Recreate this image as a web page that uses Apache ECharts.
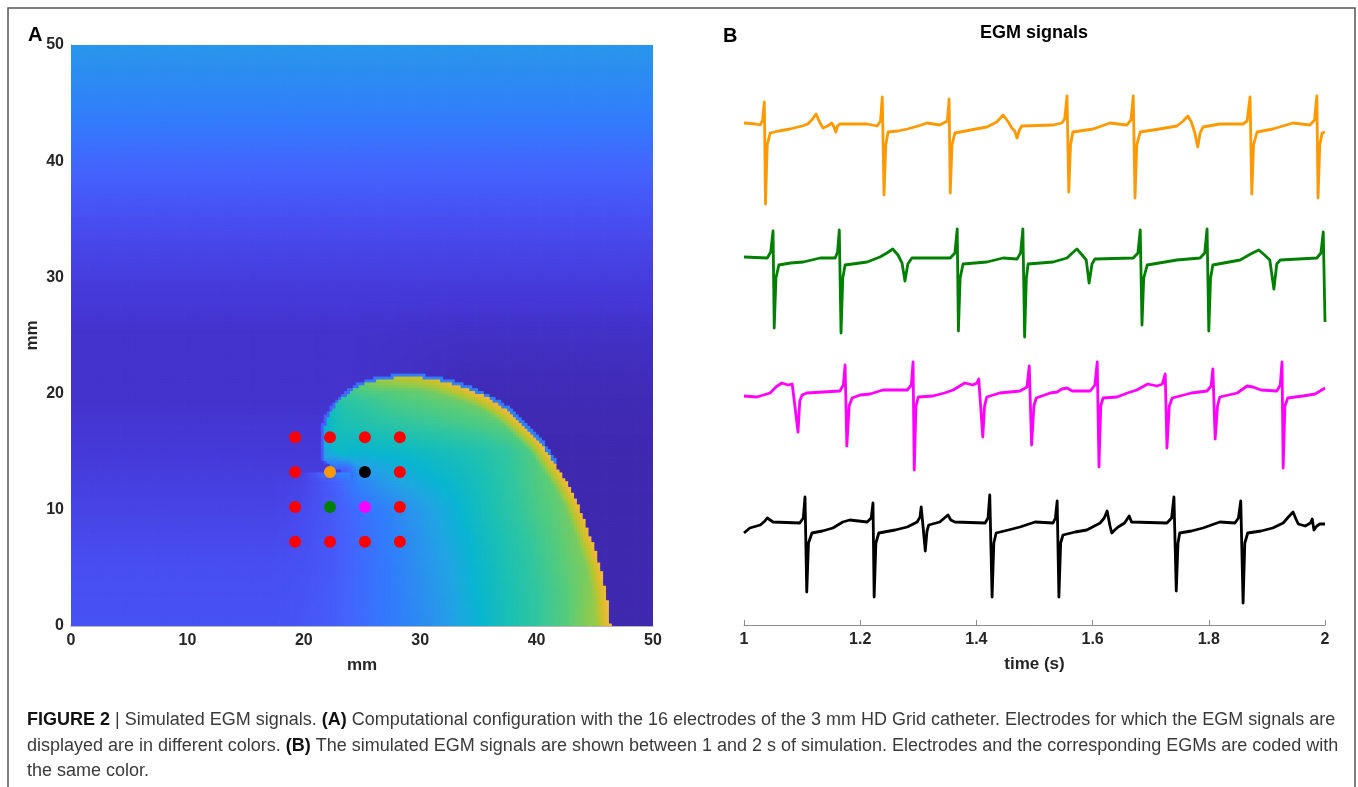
<!DOCTYPE html>
<html>
<head>
<meta charset="utf-8">
<script src="https://cdn.jsdelivr.net/npm/echarts@6/dist/echarts.min.js"></script>
<style>
html, body { margin: 0; padding: 0; background: #fff; }
#main { width: 1358px; height: 787px; }
</style>
</head>
<body>
<div id="main"></div>
<script>
// ---------- panel A : simulated field (parula level 0..100) ----------
const fieldCols = [17.5, 20, 22.5, 25, 27.5, 30, 32.5, 35, 37.5, 40, 42.5, 45, 47.5, 50];
const fieldRows = [0, 2.5, 5, 7.5, 10, 12.5, 15, 17.5, 20, 22.5];
const fieldVals = [
    [14,   15,   17, 21, 25, 29, 35, 43, 50, 56, 62, 70, 76, 80],
    [13.5, 14.5, 17, 21, 25, 30, 36, 44, 50, 56, 62, 69, 75, 80],
    [13,   14,   16, 21, 25, 31, 37, 45, 51, 57, 63, 68, 74, 80],
    [11.5, 13,   16, 21, 26, 32, 39, 46, 52, 58, 64, 70, 75, 80],
    [10,   12,   16, 22, 27, 34, 41, 48, 54, 60, 65, 70, 75, 80],
    [8.5,  10,   17, 28, 36, 41, 45, 49, 55, 61, 66, 70, 75, 80],
    [7,    7,    46, 44, 45, 47, 49, 52, 56, 62, 70, 78, 80, 80],
    [6,    6,    50, 52, 55, 57, 59, 61, 64, 70, 78, 80, 80, 80],
    [5,    5,    52, 58, 62, 64, 66, 68, 72, 78, 80, 80, 80, 80],
    [5,    5,    55, 60, 64, 66, 68, 70, 74, 78, 80, 80, 80, 80]
];
// background outside the wave, per row (left part / right part)
const bgRowsY = [0, 5, 10, 15, 20, 25, 30, 35, 40, 45, 50];
const bgLeft  = [14, 13, 10, 7, 5, 5, 8, 13, 20, 27, 33];
const bgRight = [1, 1, 1, 1, 2, 4, 8, 13, 20, 27, 33];
// wave front (outer edge), from the spiral tip round to the bottom edge
const frontX = [23.6, 22.8, 22.1, 21.8, 21.7, 21.8, 22.1, 22.6, 23.1, 24.0, 25.1, 26.5, 28.0, 30.0, 31.5,
    33.0, 34.5, 36.0, 37.5, 39.0, 40.2, 41.4, 42.5, 43.4, 44.4, 45.0, 45.5, 46.0, 46.3, 46.4];
const frontY = [13.3, 13.5, 13.9, 14.5, 15.7, 17.0, 18.0, 18.8, 19.4, 20.2, 20.8, 21.2, 21.4, 21.4, 21.2,
    20.8, 20.3, 19.6, 18.6, 17.2, 16.0, 14.3, 12.6, 11.0, 8.5, 6.8, 5.2, 3.0, 1.0, 0];
const frontLevel = [16, 20, 26, 36, 42, 44, 46, 50, 54, 58, 64, 70, 74, 76, 78,
    80, 81, 82, 82, 82, 82, 82, 82, 82, 82, 82, 82, 82, 82, 82];
// back of the wave (smooth side), closes the front outline
const backX = [46.4, 17.5, 17.5];
const backY = [-1, -1, 13.3];

// 4x4 electrodes, 3 mm apart
const electrodeX = [19.25, 22.25, 25.25, 28.25];
const electrodeY = [7.25, 10.25, 13.25, 16.25];
// [column, row, trace] of the electrodes whose EGM is shown
const tracedElectrodes = [[1, 2, 0], [1, 1, 1], [2, 1, 2], [2, 2, 3]];

// ---------- panel B : EGM signals, [time s, amplitude] ----------
const egmOrange = [[1.000,0.2],[1.020,0.1],[1.028,0.0],[1.032,0.5],[1.035,2.3],[1.037,-7.9],[1.040,-2.0],[1.045,-0.8],
    [1.060,-0.6],[1.079,-0.4],[1.100,-0.1],[1.110,0.1],[1.118,0.6],[1.124,1.1],[1.130,0.3],[1.136,-0.3],[1.144,-0.1],
    [1.151,0.2],[1.155,-0.2],[1.158,-0.7],[1.161,-0.1],[1.165,0.1],[1.212,0.1],[1.229,-0.1],[1.235,0.4],[1.238,2.8],
    [1.241,-7.0],[1.244,-2.0],[1.248,-0.7],[1.265,-0.6],[1.281,-0.4],[1.300,-0.1],[1.315,0.2],[1.337,0.0],[1.350,0.4],
    [1.353,2.6],[1.355,-6.8],[1.358,-2.0],[1.363,-0.8],[1.390,-0.5],[1.418,-0.2],[1.435,0.3],[1.446,1.0],[1.455,0.3],
    [1.461,-0.3],[1.466,-0.6],[1.470,-1.3],[1.474,-0.5],[1.478,-0.1],[1.532,0.0],[1.547,0.2],[1.552,0.6],[1.556,2.9],
    [1.559,-6.7],[1.562,-2.0],[1.566,-0.7],[1.601,-0.4],[1.630,0.2],[1.659,0.0],[1.666,0.5],[1.670,2.9],[1.673,-7.3],
    [1.676,-2.0],[1.682,-0.7],[1.715,-0.4],[1.745,-0.1],[1.756,0.4],[1.764,0.9],[1.770,0.3],[1.776,-0.8],[1.781,-2.2],
    [1.785,-0.8],[1.790,-0.2],[1.819,0.1],[1.859,0.1],[1.866,0.4],[1.871,2.8],[1.874,-6.9],[1.877,-2.0],[1.883,-0.7],
    [1.910,-0.4],[1.945,0.2],[1.974,0.0],[1.982,0.5],[1.986,2.9],[1.988,-7.3],[1.991,-2.0],[1.995,-0.8],[2.000,-0.7]];
const egmGreen = [[1.000,0.1],[1.040,0.0],[1.046,0.6],[1.050,2.7],[1.052,-7.0],[1.055,-2.0],[1.060,-0.7],[1.080,-0.5],
    [1.102,-0.4],[1.131,0.0],[1.157,0.0],[1.161,0.6],[1.164,2.8],[1.167,-7.5],[1.170,-2.0],[1.174,-0.7],[1.212,-0.4],
    [1.234,0.1],[1.246,0.5],[1.256,0.9],[1.265,0.3],[1.272,-0.5],[1.277,-2.3],[1.282,-0.6],[1.289,0.0],[1.355,0.0],
    [1.363,0.5],[1.367,2.9],[1.369,-7.3],[1.372,-2.0],[1.377,-0.6],[1.418,-0.4],[1.446,0.0],[1.470,-0.1],[1.476,0.5],
    [1.480,2.9],[1.483,-7.9],[1.486,-2.0],[1.489,-0.6],[1.532,-0.4],[1.556,0.0],[1.565,0.5],[1.573,0.9],[1.582,0.3],
    [1.589,-0.2],[1.594,-2.5],[1.599,-0.6],[1.604,-0.1],[1.670,0.0],[1.678,0.5],[1.682,2.8],[1.685,-6.7],[1.688,-2.0],
    [1.694,-0.7],[1.745,-0.2],[1.785,0.0],[1.793,0.5],[1.797,2.9],[1.800,-7.3],[1.803,-2.0],[1.807,-0.7],[1.854,-0.2],
    [1.872,0.4],[1.886,0.8],[1.896,0.3],[1.905,-0.2],[1.912,-3.1],[1.917,-0.6],[1.923,-0.2],[1.986,0.0],[1.993,0.5],
    [1.997,2.6],[2.000,-6.4]];
const egmMagenta = [[1.000,-0.5],[1.022,-0.6],[1.045,-0.2],[1.055,0.4],[1.065,0.8],[1.076,0.6],[1.083,0.7],[1.086,0.8],
    [1.093,-4.1],[1.096,-1.0],[1.100,-0.4],[1.108,-0.2],[1.165,0.0],[1.171,0.6],[1.174,2.6],[1.177,-5.5],[1.181,-1.5],
    [1.186,-0.7],[1.200,-0.4],[1.217,-0.3],[1.239,0.1],[1.281,0.1],[1.288,0.6],[1.291,2.9],[1.293,-7.9],[1.296,-1.5],
    [1.300,-0.6],[1.325,-0.5],[1.345,-0.2],[1.360,0.1],[1.380,0.8],[1.394,0.6],[1.401,0.8],[1.404,1.2],[1.411,-4.6],
    [1.414,-1.5],[1.418,-0.6],[1.440,-0.2],[1.475,0.0],[1.487,0.4],[1.491,2.5],[1.495,-5.4],[1.499,-1.5],[1.503,-0.7],
    [1.527,-0.2],[1.539,-0.1],[1.547,0.2],[1.556,0.3],[1.565,0.0],[1.596,0.0],[1.604,0.6],[1.608,2.9],[1.611,-7.6],
    [1.614,-1.5],[1.618,-0.7],[1.642,-0.6],[1.660,-0.2],[1.676,0.1],[1.695,0.7],[1.711,0.5],[1.720,0.7],[1.725,1.7],
    [1.728,-5.7],[1.732,-1.5],[1.737,-0.7],[1.770,-0.2],[1.797,0.0],[1.804,0.5],[1.807,2.2],[1.811,-4.8],[1.815,-1.5],
    [1.819,-0.6],[1.849,-0.2],[1.866,0.5],[1.876,0.4],[1.890,0.1],[1.917,0.0],[1.923,0.6],[1.926,2.9],[1.928,-7.7],
    [1.931,-1.5],[1.936,-0.7],[1.962,-0.5],[1.983,-0.3],[2.000,0.3]];
const egmBlack = [[1.000,-1.0],[1.010,-0.5],[1.028,-0.2],[1.036,0.2],[1.040,0.5],[1.045,0.3],[1.050,0.1],[1.096,0.0],
    [1.102,0.5],[1.105,2.6],[1.108,-6.9],[1.111,-2.0],[1.117,-1.0],[1.135,-0.8],[1.153,-0.5],[1.170,0.1],[1.182,0.3],
    [1.212,0.1],[1.219,0.5],[1.222,2.0],[1.224,-7.4],[1.227,-2.0],[1.232,-1.0],[1.260,-0.7],[1.281,-0.4],[1.298,0.1],
    [1.303,0.6],[1.305,1.6],[1.310,-1.5],[1.312,-2.8],[1.315,-0.8],[1.318,-0.2],[1.337,0.1],[1.345,0.5],[1.351,0.8],
    [1.356,0.3],[1.363,0.1],[1.415,0.0],[1.420,0.5],[1.423,2.8],[1.427,-7.4],[1.430,-2.0],[1.434,-1.0],[1.455,-0.7],
    [1.475,-0.4],[1.501,0.1],[1.532,0.0],[1.536,0.5],[1.539,2.2],[1.542,-7.4],[1.545,-2.0],[1.549,-1.2],[1.570,-0.9],
    [1.590,-0.7],[1.613,0.0],[1.620,0.5],[1.625,1.2],[1.630,-0.3],[1.633,-1.0],[1.638,-0.7],[1.644,-0.4],[1.655,0.0],
    [1.663,0.7],[1.667,0.1],[1.670,0.0],[1.728,0.0],[1.736,0.5],[1.740,2.6],[1.744,-6.8],[1.747,-2.0],[1.750,-1.0],
    [1.770,-0.8],[1.790,-0.5],[1.819,0.1],[1.845,0.0],[1.851,0.5],[1.855,2.2],[1.859,-8.0],[1.862,-2.0],[1.867,-1.0],
    [1.890,-0.8],[1.910,-0.5],[1.928,0.0],[1.937,0.6],[1.945,1.1],[1.950,0.4],[1.954,-0.1],[1.966,-0.3],[1.975,0.0],
    [1.978,0.4],[1.981,-0.7],[1.986,-0.3],[1.991,-0.1],[2.000,-0.1]];

// ---------- layout / style ----------
const traces = [egmOrange, egmGreen, egmMagenta, egmBlack];
const traceColors = ['#ff9900', '#008000', '#ff00ff', '#000000'];
const traceOffset = [50, 36.7, 23.4, 10.2];   // vertical stacking of the traces
const parula = ['#3e26a8', '#4537d5', '#484df0', '#4563fd', '#327cfc', '#2b91ef', '#20a5e3', '#08b5d0',
    '#19bfb6', '#31c69f', '#57cc7a', '#8fcb4e', '#c5c22a', '#f0ba36', '#fec934', '#f5e327', '#f9fb15'];
const FONT = 'Liberation Sans, Arial, Helvetica, sans-serif';
const CELLS = 200;             // 0.25 mm cells
const CELL_MM = 50 / CELLS;
const FRONT_BAND = 1.2;        // mm, bright band behind the front
const FRONT_HALO = 0.3;        // mm, soft edge just ahead of it
const TIP = [frontX[0], frontY[0]];

function locate(arr, v) {
    if (v <= arr[0]) return [0, 0];
    for (let i = 0; i < arr.length - 1; i++) {
        if (v <= arr[i + 1]) return [i, (v - arr[i]) / (arr[i + 1] - arr[i])];
    }
    return [arr.length - 2, 1];
}
function fieldAt(x, y) {
    const [i, fx] = locate(fieldCols, x), [j, fy] = locate(fieldRows, y);
    const a = fieldVals[j][i], b = fieldVals[j][i + 1], c = fieldVals[j + 1][i], d = fieldVals[j + 1][i + 1];
    return (a * (1 - fx) + b * fx) * (1 - fy) + (c * (1 - fx) + d * fx) * fy;
}
function bgAt(x, y) {
    const [j, f] = locate(bgRowsY, y);
    const l = bgLeft[j] + (bgLeft[j + 1] - bgLeft[j]) * f;
    const r = bgRight[j] + (bgRight[j + 1] - bgRight[j]) * f;
    const w = Math.min(1, Math.max(0, (x - 24) / 10));
    return l + (r - l) * w;
}
const outline = frontX.map((x, i) => [x, frontY[i]]).concat(backX.map((x, i) => [x, backY[i]]));
function insideWave(x, y) {
    let inside = false;
    for (let i = 0, j = outline.length - 1; i < outline.length; j = i++) {
        const [xi, yi] = outline[i], [xj, yj] = outline[j];
        if ((yi > y) !== (yj > y) && x < (xj - xi) * (y - yi) / (yj - yi) + xi) inside = !inside;
    }
    return inside;
}
function nearestFront(x, y) {
    let best = Infinity, level = 0;
    for (let i = 0; i < frontX.length - 1; i++) {
        const ax = frontX[i], ay = frontY[i], bx = frontX[i + 1], by = frontY[i + 1];
        const dx = bx - ax, dy = by - ay;
        let t = ((x - ax) * dx + (y - ay) * dy) / (dx * dx + dy * dy);
        t = Math.max(0, Math.min(1, t));
        const d = Math.hypot(x - ax - t * dx, y - ay - t * dy);
        if (d < best) { best = d; level = frontLevel[i] + (frontLevel[i + 1] - frontLevel[i]) * t; }
    }
    return [best, level];
}

// cells as [x0 mm, y0 mm, level]
const fieldCells = [];
for (let i = 0; i < CELLS; i++) {
    for (let j = 0; j < CELLS; j++) {
        const x = (i + 0.5) * CELL_MM, y = (j + 0.5) * CELL_MM;
        const [d, lev] = nearestFront(x, y);
        let v;
        if (insideWave(x, y)) {
            v = fieldAt(x, y);
            // no bright band on the smooth side under the spiral tip
            const underTip = y < TIP[1] && x < TIP[0] + 0.3;
            if (d < FRONT_BAND && !underTip) v = lev + (v - lev) * (d / FRONT_BAND);
        } else {
            v = bgAt(x, y);
            if (d < FRONT_HALO && y > 14) v = v + (lev - v) * 0.3;
        }
        fieldCells.push([i * CELL_MM, j * CELL_MM, v]);
    }
}

const electrodes = [];
electrodeX.forEach((x, c) => electrodeY.forEach((y, r) => {
    const hit = tracedElectrodes.find(e => e[0] === c && e[1] === r);
    electrodes.push({ value: [x, y], itemStyle: { color: hit ? traceColors[hit[2]] : '#ff0000' } });
}));

const tickLabel = { fontFamily: FONT, fontWeight: 'bold', fontSize: 16, color: '#262626' };
const nameLabel = { fontFamily: FONT, fontWeight: 'bold', fontSize: 17, color: '#262626' };
const gridA = { left: 71, top: 45, width: 582, height: 581 };
const gridB = { left: 744, top: 45, width: 581, height: 580 };

const chart = echarts.init(document.getElementById('main'));
chart.setOption({
    animation: false,
    backgroundColor: '#fff',
    grid: [gridA, gridB],
    xAxis: [
        { gridIndex: 0, type: 'value', min: 0, max: 50, interval: 10, position: 'bottom',
          axisLine: { lineStyle: { color: '#a8a8a8' } }, axisTick: { show: false }, splitLine: { show: false },
          axisLabel: Object.assign({ margin: 7 }, tickLabel),
          name: 'mm', nameLocation: 'middle', nameGap: 31, nameTextStyle: nameLabel },
        { gridIndex: 0, type: 'value', min: 0, max: 50, position: 'top',
          axisLine: { lineStyle: { color: '#b8b8b8' } }, axisTick: { show: false },
          axisLabel: { show: false }, splitLine: { show: false } },
        { gridIndex: 1, type: 'value', min: 1, max: 2, interval: 0.2,
          axisLine: { lineStyle: { color: '#8c8c8c' } },
          axisTick: { inside: true, length: 5, lineStyle: { color: '#8c8c8c' } },
          splitLine: { show: false },
          axisLabel: Object.assign({ margin: 7 }, tickLabel),
          name: 'time (s)', nameLocation: 'middle', nameGap: 31, nameTextStyle: nameLabel }
    ],
    yAxis: [
        { gridIndex: 0, type: 'value', min: 0, max: 50, interval: 10, position: 'left',
          axisLine: { show: true, lineStyle: { color: '#a8a8a8' } }, axisTick: { show: false }, splitLine: { show: false },
          axisLabel: Object.assign({ margin: 7 }, tickLabel),
          name: 'mm', nameLocation: 'middle', nameGap: 30, nameRotate: 90, nameTextStyle: nameLabel },
        { gridIndex: 0, type: 'value', min: 0, max: 50, position: 'right',
          axisLine: { show: true, lineStyle: { color: '#b8b8b8' } }, axisTick: { show: false },
          axisLabel: { show: false }, splitLine: { show: false } },
        { gridIndex: 1, type: 'value', min: 0, max: 58, show: false }
    ],
    visualMap: {
        type: 'continuous', show: false, seriesIndex: 0, dimension: 2, min: 0, max: 100,
        inRange: { color: parula }
    },
    series: [
        { type: 'custom', xAxisIndex: 0, yAxisIndex: 0, data: fieldCells, silent: true, clip: true,
          progressive: 0, progressiveThreshold: 1e7,
          encode: { x: 0, y: 1 },
          renderItem: (params, api) => {
              const p0 = api.coord([api.value(0), api.value(1)]);
              const p1 = api.coord([api.value(0) + CELL_MM, api.value(1) + CELL_MM]);
              return { type: 'rect',
                       shape: { x: p0[0] - 0.4, y: p1[1] - 0.4, width: p1[0] - p0[0] + 0.8, height: p0[1] - p1[1] + 0.8 },
                       style: { fill: api.visual('color') } };
          } },
        { type: 'scatter', xAxisIndex: 0, yAxisIndex: 0, data: electrodes, symbolSize: 12, z: 5, silent: true,
          itemStyle: { opacity: 1 } }
    ].concat(traces.map((tr, k) => ({
        type: 'line', xAxisIndex: 2, yAxisIndex: 2, showSymbol: false, symbol: 'none',
        data: tr.map(p => [p[0], p[1] + traceOffset[k]]),
        lineStyle: { color: traceColors[k], width: 2.8, join: 'round' }, silent: true
    }))),
    graphic: [
        { type: 'rect', silent: true, shape: { x: 8, y: 8, width: 1347, height: 830 },
          style: { fill: 'transparent', stroke: '#555', lineWidth: 1.5 } },
        { type: 'text', x: 28, y: 35, silent: true,
          style: { text: 'A', font: 'bold 20px ' + FONT, fill: '#000', verticalAlign: 'middle' } },
        { type: 'text', x: 723, y: 36, silent: true,
          style: { text: 'B', font: 'bold 20px ' + FONT, fill: '#000', verticalAlign: 'middle' } },
        { type: 'text', x: 1034, y: 33, silent: true,
          style: { text: 'EGM signals', font: 'bold 18px ' + FONT, fill: '#000', align: 'center', verticalAlign: 'middle' } },
        { type: 'text', x: 27, y: 720, silent: true,
          style: { text: '{b|FIGURE 2} | Simulated EGM signals. {b|(A)} Computational configuration with the 16 electrodes of the 3 mm HD Grid catheter. Electrodes for which the EGM signals are',
                   font: '18px ' + FONT, fill: '#3a3a3a', verticalAlign: 'middle',
                   rich: { b: { fontWeight: 'bold', fontSize: 18, fontFamily: FONT, fill: '#111' } } } },
        { type: 'text', x: 27, y: 746, silent: true,
          style: { text: 'displayed are in different colors. {b|(B)} The simulated EGM signals are shown between 1 and 2 s of simulation. Electrodes and the corresponding EGMs are coded with',
                   font: '18px ' + FONT, fill: '#3a3a3a', verticalAlign: 'middle',
                   rich: { b: { fontWeight: 'bold', fontSize: 18, fontFamily: FONT, fill: '#111' } } } },
        { type: 'text', x: 27, y: 771, silent: true,
          style: { text: 'the same color.', font: '18px ' + FONT, fill: '#3a3a3a', verticalAlign: 'middle' } }
    ]
});
</script>
</body>
</html>
